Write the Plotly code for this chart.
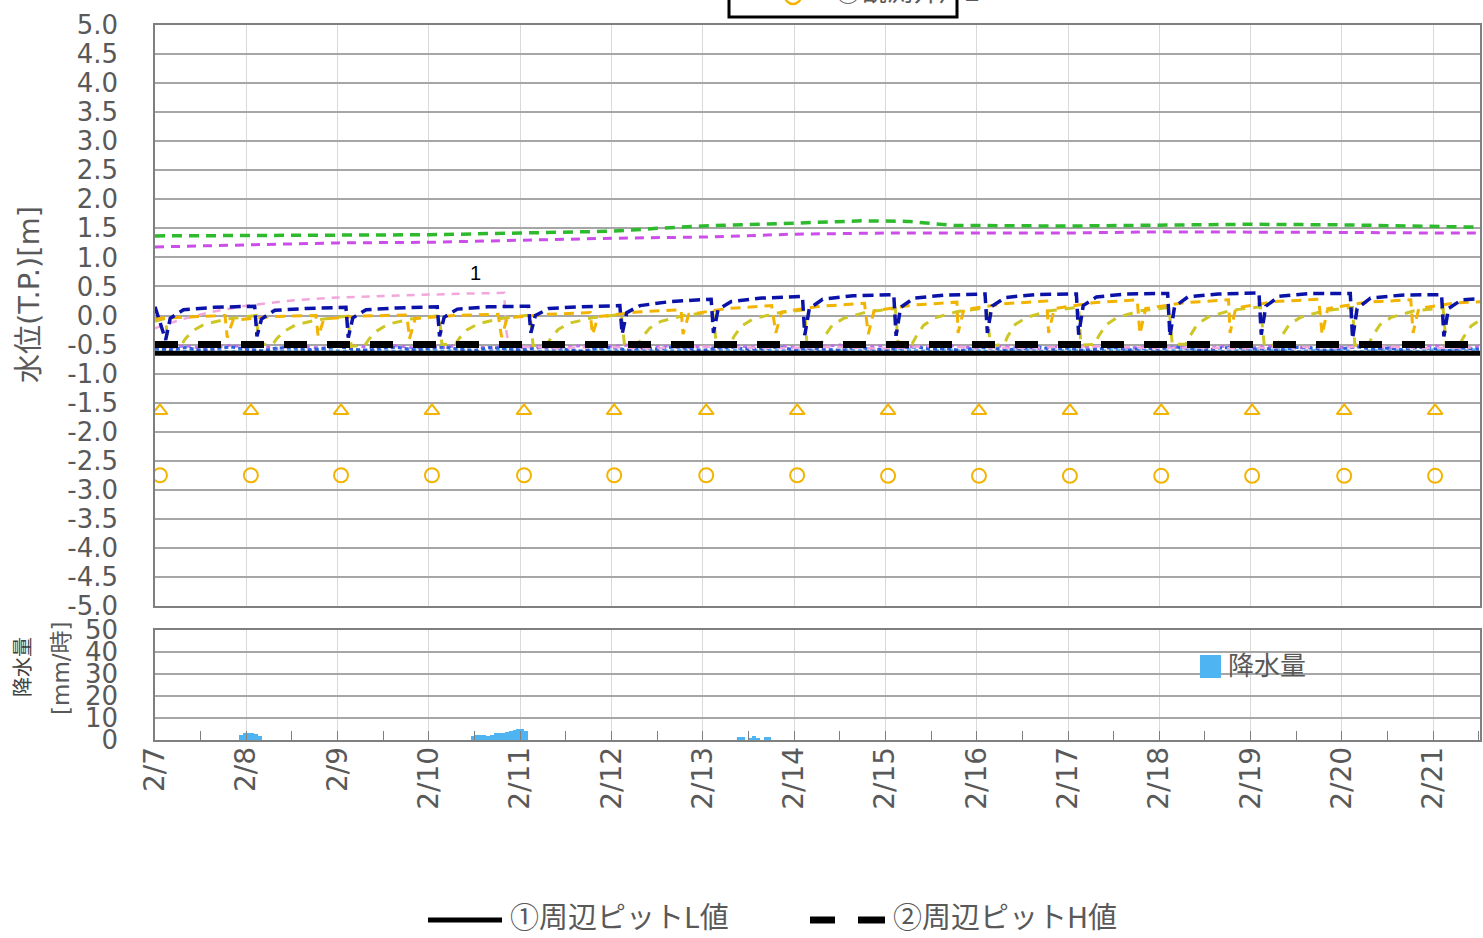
import numpy as np
import pandas as pd
import plotly.graph_objects as go

# ---------------------------------------------------------------- data
START = pd.Timestamp("2023-02-07 00:00")
END = pd.Timestamp("2023-02-21 12:18")

# fixed control levels [m]
level_L = -0.65          # ①周辺ピットL値
level_H = -0.50          # ②周辺ピットH値

# axis tick values
level_ticks = [5.0, 4.5, 4.0, 3.5, 3.0, 2.5, 2.0, 1.5, 1.0, 0.5, 0.0,
               -0.5, -1.0, -1.5, -2.0, -2.5, -3.0, -3.5, -4.0, -4.5, -5.0]
level_labels = ["5.0", "4.5", "4.0", "3.5", "3.0", "2.5", "2.0", "1.5", "1.0", "0.5", "0.0",
                "-0.5", "-1.0", "-1.5", "-2.0", "-2.5", "-3.0", "-3.5", "-4.0", "-4.5", "-5.0"]
rain_ticks = [0, 10, 20, 30, 40, 50]

# slowly varying wells (hours from 2/7 00:00, level)
green_t = [0, 24, 48, 72, 96, 120, 132, 144, 168, 186, 198, 210, 240, 264, 288, 312, 336, 348.3]
green_v = [1.37, 1.38, 1.38, 1.39, 1.42, 1.45, 1.50, 1.54, 1.59, 1.63, 1.62, 1.55, 1.54, 1.56, 1.57, 1.56, 1.54, 1.52]

violet_t = [0, 24, 48, 72, 96, 120, 144, 168, 192, 216, 240, 264, 288, 312, 336, 348.3]
violet_v = [1.18, 1.21, 1.25, 1.26, 1.30, 1.33, 1.35, 1.40, 1.42, 1.42, 1.42, 1.44, 1.44, 1.43, 1.42, 1.42]

pink_t = [0, 3, 8, 14, 24, 36, 48, 60, 72, 84, 91.8, 92.2, 93.0, 106, 118, 130, 142, 154, 166,
          178, 190, 202, 214, 226, 238, 250, 262, 274, 286, 298, 310, 322, 334, 346]
pink_v = [-0.22, -0.15, -0.05, 0.05, 0.17, 0.26, 0.31, 0.34, 0.36, 0.38, 0.39, -0.20, -0.53, -0.56,
          -0.54, -0.57, -0.53, -0.55, -0.56, -0.54, -0.57, -0.53, -0.55, -0.56, -0.54, -0.53, -0.56,
          -0.55, -0.57, -0.54, -0.55, -0.53, -0.56, -0.55]

# pumped well (navy): drawdown events and recovery levels per cycle
navy_lead_t, navy_lead_v = [0.0], [0.15]
navy_drop = [2.5, 26.5, 50.5, 74.5, 98.5, 122.5, 146.5, 170.5, 194.5, 218.5, 242.5, 266.5, 290.5, 314.5, 338.5]
navy_off = [0.3, 1.5, 5.0, 13.0, 23.7]
navy_low = [-0.42, -0.36, -0.38, -0.36, -0.30, -0.32, -0.30, -0.34, -0.35, -0.30, -0.33, -0.36, -0.33, -0.40, -0.36]
navy_rise = [-0.05, -0.06, -0.04, -0.03, 0.00, 0.05, 0.10, 0.12, 0.14, 0.16, 0.17, 0.15, 0.16, 0.12, 0.12]
navy_mid = [0.10, 0.09, 0.10, 0.11, 0.12, 0.17, 0.24, 0.28, 0.30, 0.31, 0.32, 0.32, 0.33, 0.30, 0.27]
navy_late = [0.14, 0.12, 0.13, 0.15, 0.15, 0.24, 0.30, 0.34, 0.35, 0.36, 0.37, 0.37, 0.38, 0.35, 0.30]
navy_peak = [0.16, 0.14, 0.15, 0.16, 0.17, 0.28, 0.33, 0.36, 0.37, 0.37, 0.38, 0.39, 0.38, 0.36, 0.32]

# gold well: evening drawdowns
gold_lead_t, gold_lead_v = [0.0, 18.4], [-0.05, 0.00]
gold_drop = [18.7, 42.6, 66.6, 90.8, 114.7, 138.5, 162.9, 187.2, 210.8, 234.6, 258.6, 282.3, 306.5, 330.4]
gold_off = [0.3, 1.8, 12.0, 23.6]
gold_low = [-0.38, -0.36, -0.40, -0.37, -0.33, -0.32, -0.30, -0.32, -0.30, -0.30, -0.32, -0.30, -0.33, -0.30]
gold_rise = [-0.08, -0.06, -0.05, -0.04, -0.02, 0.02, 0.06, 0.08, 0.10, 0.12, 0.12, 0.13, 0.12, 0.12]
gold_late = [-0.02, -0.01, 0.00, 0.02, 0.06, 0.12, 0.16, 0.18, 0.20, 0.22, 0.22, 0.24, 0.23, 0.22]
gold_peak = [0.00, 0.01, 0.02, 0.05, 0.10, 0.17, 0.21, 0.23, 0.25, 0.27, 0.27, 0.28, 0.27, 0.25]

# olive well: early-morning reset and slow recovery
olive_lead_t, olive_lead_v = [0.0, 2.8], [-0.10, -0.05]
olive_drop = [3.0, 27.0, 51.2, 75.0, 99.0, 123.0, 147.2, 171.0, 195.0, 219.2, 243.0, 267.0, 291.2, 315.0, 339.0]
olive_off = [0.4, 4.0, 5.0, 7.0, 10.0, 16.0, 23.6]
olive_low = [-0.52, -0.50, -0.53, -0.50, -0.52, -0.50, -0.51, -0.52, -0.50, -0.52, -0.51, -0.50, -0.52, -0.51, -0.50]
olive_low2 = [-0.50, -0.49, -0.51, -0.49, -0.50, -0.49, -0.50, -0.50, -0.49, -0.50, -0.50, -0.49, -0.50, -0.50, -0.49]
olive_a = [-0.40, -0.40, -0.41, -0.39, -0.40, -0.38, -0.36, -0.36, -0.37, -0.35, -0.36, -0.36, -0.35, -0.36, -0.37]
olive_b = [-0.26, -0.27, -0.27, -0.25, -0.24, -0.22, -0.18, -0.17, -0.17, -0.15, -0.16, -0.15, -0.15, -0.16, -0.18]
olive_c = [-0.15, -0.16, -0.15, -0.14, -0.13, -0.10, -0.06, -0.05, -0.04, -0.03, -0.03, -0.02, -0.03, -0.03, -0.05]
olive_d = [-0.06, -0.07, -0.06, -0.05, -0.04, 0.00, 0.04, 0.06, 0.07, 0.08, 0.08, 0.09, 0.08, 0.08, 0.06]
olive_peak = [0.00, -0.01, 0.00, 0.01, 0.02, 0.06, 0.10, 0.12, 0.13, 0.14, 0.14, 0.15, 0.14, 0.13, 0.12]

# wells sitting near the pit bottom (4-hourly readings)
noise_t = np.arange(0, 352, 4)
noise_blue = [
    -0.56, -0.59, -0.55, -0.60, -0.57, -0.54, -0.58, -0.61, -0.56, -0.55,
    -0.59, -0.57, -0.53, -0.58, -0.60, -0.56, -0.55, -0.59, -0.57, -0.54,
    -0.58, -0.60, -0.55, -0.57, -0.59, -0.56, -0.54, -0.58, -0.61, -0.57,
    -0.55, -0.59, -0.56, -0.58, -0.54, -0.57, -0.60, -0.56, -0.55, -0.58,
    -0.57, -0.54, -0.59, -0.56, -0.58, -0.60, -0.55, -0.57, -0.59, -0.56,
    -0.54, -0.58, -0.57, -0.60, -0.55, -0.56, -0.59, -0.57, -0.54, -0.58,
    -0.56, -0.60, -0.57, -0.55, -0.59, -0.56, -0.58, -0.54, -0.57, -0.60,
    -0.56, -0.55, -0.58, -0.57, -0.59, -0.55, -0.56, -0.60, -0.57, -0.54,
    -0.58, -0.56, -0.59, -0.55, -0.57, -0.60, -0.56, -0.58]
noise_violet = [
    -0.53, -0.55, -0.52, -0.56, -0.54, -0.51, -0.55, -0.53, -0.57, -0.52,
    -0.54, -0.56, -0.53, -0.51, -0.55, -0.54, -0.52, -0.56, -0.53, -0.55,
    -0.51, -0.54, -0.56, -0.52, -0.55, -0.53, -0.57, -0.54, -0.52, -0.55,
    -0.53, -0.51, -0.56, -0.54, -0.52, -0.55, -0.53, -0.56, -0.51, -0.54,
    -0.55, -0.52, -0.54, -0.57, -0.53, -0.51, -0.55, -0.54, -0.52, -0.56,
    -0.53, -0.55, -0.51, -0.54, -0.56, -0.52, -0.53, -0.55, -0.57, -0.54,
    -0.52, -0.55, -0.53, -0.51, -0.56, -0.54, -0.52, -0.55, -0.53, -0.56,
    -0.54, -0.51, -0.55, -0.53, -0.52, -0.56, -0.54, -0.53, -0.55, -0.52,
    -0.54, -0.56, -0.53, -0.55, -0.52, -0.54, -0.56, -0.53]
noise_sky = [
    -0.60, -0.58, -0.62, -0.59, -0.61, -0.63, -0.58, -0.60, -0.62, -0.59,
    -0.61, -0.58, -0.60, -0.63, -0.59, -0.61, -0.62, -0.58, -0.60, -0.61,
    -0.59, -0.62, -0.60, -0.58, -0.61, -0.63, -0.59, -0.60, -0.62, -0.58,
    -0.61, -0.60, -0.59, -0.62, -0.58, -0.61, -0.63, -0.60, -0.59, -0.62,
    -0.58, -0.60, -0.61, -0.59, -0.63, -0.60, -0.58, -0.62, -0.61, -0.59,
    -0.60, -0.62, -0.58, -0.61, -0.59, -0.63, -0.60, -0.58, -0.61, -0.62,
    -0.59, -0.60, -0.62, -0.58, -0.61, -0.60, -0.63, -0.59, -0.58, -0.61,
    -0.62, -0.60, -0.59, -0.61, -0.58, -0.62, -0.60, -0.61, -0.59, -0.63,
    -0.60, -0.58, -0.61, -0.62, -0.59, -0.60, -0.61, -0.58]

# daily manual readings (gold markers)
manual_t = [1.3, 25.2, 48.9, 72.8, 97.0, 120.7, 144.9, 168.8, 192.7, 216.6, 240.5, 264.5, 288.4, 312.6, 336.5]
tri_v = [-1.64, -1.64, -1.64, -1.64, -1.64, -1.64, -1.64, -1.64, -1.64, -1.64, -1.64, -1.64, -1.64, -1.64, -1.64]
circ_v = [-2.75, -2.75, -2.75, -2.75, -2.75, -2.75, -2.75, -2.75, -2.76, -2.76, -2.76, -2.76, -2.76, -2.76, -2.76]

# hourly precipitation [mm/h]
rain_t = [22.5, 23.5, 24.5, 25.5, 26.5, 27.5,
          83.5, 84.5, 85.5, 86.5, 87.5, 88.5, 89.5, 90.5, 91.5, 92.5, 93.5, 94.5, 95.5, 96.5, 97.5,
          153.5, 154.5, 156.5, 157.5, 158.5, 160.5, 161.5]
rain_mm = [2.5, 3.0, 3.2, 3.0, 2.6, 2.0,
           2.0, 2.2, 2.5, 2.2, 2.0, 2.5, 3.0, 3.0, 3.2, 3.5, 4.0, 4.5, 5.0, 5.0, 4.2,
           1.5, 1.5, 1.0, 2.0, 1.0, 1.5, 1.5]

label_value = 1   # value label near 2/10 12:00


# ---------------------------------------------------------------- helpers
def at(hours):
    return START + pd.to_timedelta(np.asarray(hours, dtype=float), unit="h")


def cycles(lead_t, lead_v, drops, offsets, rows):
    t, v = list(lead_t), list(lead_v)
    for i, d in enumerate(drops):
        for off, row in zip(offsets, rows):
            t.append(d + off)
            v.append(row[i])
    return t, v


navy_t, navy_v = cycles(navy_lead_t, navy_lead_v, navy_drop, navy_off,
                        [navy_low, navy_rise, navy_mid, navy_late, navy_peak])
gold_t, gold_v = cycles(gold_lead_t, gold_lead_v, gold_drop, gold_off,
                        [gold_low, gold_rise, gold_late, gold_peak])
olive_t, olive_v = cycles(olive_lead_t, olive_lead_v, olive_drop, olive_off,
                          [olive_low, olive_low2, olive_a, olive_b, olive_c, olive_d, olive_peak])

# ---------------------------------------------------------------- figure
fig = go.Figure()


def dashed(t, v, color, width, dash):
    fig.add_trace(go.Scatter(x=at(t), y=v, mode="lines", xaxis="x", yaxis="y",
                             line=dict(color=color, width=width, dash=dash),
                             hoverinfo="skip", showlegend=False))


dashed(noise_t, noise_sky, "#66b8ff", 3, "4px,3px")
dashed(noise_t, noise_violet, "#c070e8", 3, "4px,4px")
dashed(noise_t, noise_blue, "#2f5fdc", 3, "4px,3px")
dashed(pink_t, pink_v, "#f2a6dc", 2.5, "8px,7px")
dashed(green_t, green_v, "#2dbb2d", 3.5, "10px,7px")
dashed(violet_t, violet_v, "#cc4ee8", 3, "9px,7px")
dashed(olive_t, olive_v, "#cdc624", 3, "10px,8px")
dashed(gold_t, gold_v, "#f2b400", 3, "10px,7px")
dashed(navy_t, navy_v, "#0a12a8", 3.5, "11px,6px")

span = [0, 348.3]
fig.add_trace(go.Scatter(x=at(span), y=[level_L, level_L], mode="lines",
                         line=dict(color="black", width=5), hoverinfo="skip", showlegend=False))
fig.add_trace(go.Scatter(x=at(span), y=[level_H, level_H], mode="lines",
                         line=dict(color="black", width=7, dash="23px,20px"),
                         hoverinfo="skip", showlegend=False))

fig.add_trace(go.Scatter(x=at(manual_t), y=tri_v, mode="markers",
                         marker=dict(symbol="triangle-up-open", size=13, color="#f2b400",
                                     line=dict(width=2, color="#f2b400")),
                         hoverinfo="skip", showlegend=False))
fig.add_trace(go.Scatter(x=at(manual_t), y=circ_v, mode="markers",
                         marker=dict(symbol="circle-open", size=14, color="#f2b400",
                                     line=dict(width=2, color="#f2b400")),
                         hoverinfo="skip", showlegend=False))

fig.add_trace(go.Bar(x=at(rain_t), y=rain_mm, xaxis="x2", yaxis="y2",
                     width=3600 * 1000, marker=dict(color="#4fb4f2", line=dict(width=0)),
                     hoverinfo="skip", showlegend=False))

# ---------------------------------------------------------------- layout
GRAY = "#595959"
CJK = "Noto Sans CJK JP"
NUM = "DejaVu Sans"
MIXED = "DejaVu Sans, Noto Sans CJK JP"
W_PIX = 1325.0     # plotting band width in pixels
H_PIX = 715.0      # plotting band height in pixels


def px_x(px):
    return (px - 155) / W_PIX


def px_y(py):
    return (740 - py) / H_PIX


axis_line = dict(showline=True, mirror=True, linecolor="#7f7f7f", linewidth=1.5)

fig.update_layout(
    width=1483, height=938,
    margin=dict(l=155, r=3, t=25, b=198, autoexpand=False),
    paper_bgcolor="white", plot_bgcolor="white",
    showlegend=False, bargap=0,
    font=dict(family=CJK, color=GRAY, size=26),
    xaxis=dict(domain=[0, 1], anchor="y", type="date", range=[START, END],
               tick0="2023-02-07", dtick=86400000, showticklabels=False, ticks="",
               showgrid=True, gridcolor="#d9d9d9", gridwidth=1, **axis_line),
    yaxis=dict(domain=[px_y(606), 1], anchor="x", range=[-5, 5],
               tickmode="array", tickvals=level_ticks, ticktext=level_labels,
               showgrid=True, gridcolor="#a6a6a6", gridwidth=1.5, zeroline=False,
               ticks="outside", ticklen=30, tickcolor="rgba(0,0,0,0)",
               tickfont=dict(size=26, color=GRAY, family=NUM), **axis_line),
    xaxis2=dict(domain=[0, 1], anchor="y2", type="date", matches="x", range=[START, END],
                tick0="2023-02-07", dtick=86400000, tickformat="%-m/%-d", tickangle=-90,
                ticks="inside", ticklen=9, tickcolor="#7f7f7f", ticklabelstandoff=-6,
                minor=dict(dtick=43200000, tick0="2023-02-07", ticks="inside", ticklen=9,
                           tickcolor="#7f7f7f", showgrid=False),
                showgrid=True, gridcolor="#d9d9d9", gridwidth=1,
                tickfont=dict(size=28, color=GRAY, family=NUM), **axis_line),
    yaxis2=dict(domain=[0, px_y(630)], anchor="x2", range=[0, 50],
                tickmode="array", tickvals=rain_ticks,
                showgrid=True, gridcolor="#a6a6a6", gridwidth=1.5, zeroline=False,
                ticks="outside", ticklen=30, tickcolor="rgba(0,0,0,0)",
                tickfont=dict(size=26, color=GRAY, family=NUM), **axis_line),
)


def note(text, x, y, size, color=GRAY, family=CJK, angle=0, xanchor="center"):
    return dict(text=text, x=x, y=y, xref="paper", yref="paper", textangle=angle,
                xanchor=xanchor, yanchor="middle", showarrow=False,
                font=dict(size=size, color=color, family=family))


annotations = [
    note("水位(T.P.)[m]", px_x(29), px_y(295), 29, family=MIXED, angle=-90),
    note("降水量", px_x(21), px_y(667), 20, color="#404040", angle=-90),
    note("[mm/時]", px_x(61), px_y(668), 23, family=MIXED, angle=-90),
    note("降水量", px_x(1226), px_y(663), 26, xanchor="left"),
    note("①周辺ピットL値", px_x(508), px_y(915), 29, xanchor="left"),
    note("②周辺ピットH値", px_x(891), px_y(915), 29, xanchor="left"),
    note("⑯観測井戸2", px_x(833), px_y(-10), 26, xanchor="left"),
    dict(text=str(label_value), x=at([84.2])[0], y=0.73, xref="x", yref="y",
         xanchor="center", yanchor="middle", showarrow=False,
         font=dict(size=20, color="black", family="Liberation Sans")),
]
fig.update_layout(annotations=annotations)

shapes = [
    # precipitation legend swatch
    dict(type="rect", xref="paper", yref="paper", x0=px_x(1200), x1=px_x(1221),
         y0=px_y(678), y1=px_y(655), fillcolor="#4fb4f2", line=dict(width=0)),
    # bottom legend symbols
    dict(type="line", xref="paper", yref="paper", x0=px_x(428), x1=px_x(502),
         y0=px_y(920), y1=px_y(920), line=dict(color="black", width=5)),
    dict(type="line", xref="paper", yref="paper", x0=px_x(810), x1=px_x(835),
         y0=px_y(920), y1=px_y(920), line=dict(color="black", width=7)),
    dict(type="line", xref="paper", yref="paper", x0=px_x(858), x1=px_x(885),
         y0=px_y(920), y1=px_y(920), line=dict(color="black", width=7)),
    # top legend frame (runs past the page top)
    dict(type="rect", xref="paper", yref="paper", x0=px_x(729), x1=px_x(957),
         y0=px_y(17), y1=px_y(-30), line=dict(color="black", width=3),
         fillcolor="white", layer="below"),
    dict(type="circle", xref="paper", yref="paper", x0=px_x(785), x1=px_x(801),
         y0=px_y(4), y1=px_y(-12), line=dict(color="#f2b400", width=2.5)),
]
fig.update_layout(shapes=shapes)

fig.write_html("out.html")
